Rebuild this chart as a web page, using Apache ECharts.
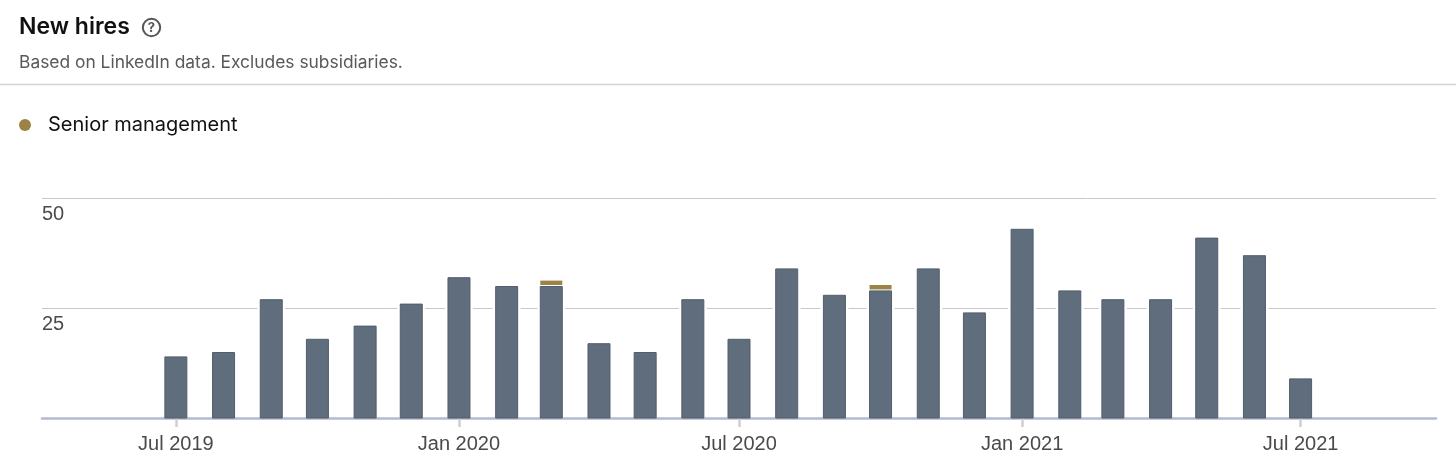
<!DOCTYPE html>
<html>
<head>
<meta charset="utf-8">
<style>
  html, body { margin: 0; padding: 0; background: #fff; }
  #chart { width: 1456px; height: 466px; }
</style>
<script src="https://cdn.jsdelivr.net/npm/echarts@6/dist/echarts.min.js"></script>
</head>
<body>
<div id="chart"></div>
<script>
const months = ['2019-07-01', '2019-08-01', '2019-09-01', '2019-10-01', '2019-11-01', '2019-12-01',
  '2020-01-01', '2020-02-01', '2020-03-01', '2020-04-01', '2020-05-01', '2020-06-01',
  '2020-07-01', '2020-08-01', '2020-09-01', '2020-10-01', '2020-11-01', '2020-12-01',
  '2021-01-01', '2021-02-01', '2021-03-01', '2021-04-01', '2021-05-01', '2021-06-01', '2021-07-01'];
const otherHires = [14, 15, 27, 18, 21, 26, 32, 30, 30, 17, 15, 27, 18, 34, 28, 29, 34, 24, 43, 29, 27, 27, 41, 37, 9];
const seniorHires = [0, 0, 0, 0, 0, 0, 0, 0, 1, 0, 0, 0, 0, 0, 0, 1, 0, 0, 0, 0, 0, 0, 0, 0, 0];
const xTicks = ['2019-07-01', '2020-01-01', '2020-07-01', '2021-01-01', '2021-07-01'];
const yTicks = [0, 25, 50];

const BAR_WIDTH = 22;

// bars have a white halo that cuts the gridlines, so plain bar series won't do
function renderOther(params, api) {
  const top = api.coord([api.value(0), api.value(1)]);
  const bottom = api.coord([api.value(0), 0]);
  const x = top[0] - BAR_WIDTH / 2;
  return {
    type: 'group',
    children: [
      {
        type: 'rect',
        shape: { x: x - 3, y: top[1] - 1, width: BAR_WIDTH + 6, height: bottom[1] - top[1] },
        style: { fill: '#fff' }
      },
      {
        type: 'rect',
        shape: { x: x, y: top[1] + 0.5, width: BAR_WIDTH, height: bottom[1] - top[1] - 0.5 },
        style: { fill: api.visual('color'), stroke: '#505e6d', lineWidth: 1 }
      }
    ]
  };
}

function renderSenior(params, api) {
  if (!api.value(2)) return null;
  const top = api.coord([api.value(0), api.value(1) + api.value(2)]);
  const bottom = api.coord([api.value(0), api.value(1)]);
  return {
    type: 'rect',
    shape: { x: top[0] - BAR_WIDTH / 2, y: top[1] - 1, width: BAR_WIDTH, height: bottom[1] - top[1] },
    style: { fill: api.visual('color') }
  };
}

const rows = months.map((m, i) => [m, otherHires[i], seniorHires[i]]);

const chart = echarts.init(document.getElementById('chart'));
chart.setOption({
  animation: false,
  title: {
    text: 'New hires',
    subtext: 'Based on LinkedIn data. Excludes subsidiaries.',
    left: 19,
    top: 16,
    padding: 0,
    itemGap: 15,
    textStyle: { fontFamily: 'Inter', fontSize: 23, fontWeight: 600, color: '#111' },
    subtextStyle: { fontFamily: 'Inter', fontSize: 17.4, fontWeight: 400, color: '#595959' }
  },
  legend: {
    data: [{ name: 'Senior management', icon: 'circle' }],
    left: 19,
    top: 115,
    padding: 0,
    itemWidth: 12,
    itemHeight: 12,
    itemGap: 0,
    textStyle: { fontFamily: 'Inter', fontSize: 20, color: '#111', padding: [0, 0, 0, 12] }
  },
  grid: { left: 42, right: 20, top: 198, bottom: 48 },
  xAxis: {
    type: 'time',
    min: '2019-04-05',
    max: '2021-09-27',
    axisLine: { lineStyle: { color: '#b4bacf', width: 2.5 } },
    axisTick: { customValues: xTicks, length: 9, lineStyle: { color: '#cfcfcf', width: 2.5 } },
    axisLabel: {
      customValues: xTicks,
      formatter: '{MMM} {yyyy}',
      margin: 16,
      fontFamily: 'Liberation Sans',
      fontSize: 20,
      color: '#4a4a4a'
    },
    splitLine: { show: false }
  },
  yAxis: {
    type: 'value',
    min: 0,
    max: 50,
    interval: 25,
    axisLine: { show: false },
    axisTick: { show: false },
    axisLabel: {
      customValues: yTicks,
      inside: true,
      margin: 0,
      align: 'left',
      verticalAlign: 'top',
      padding: [6, 0, 0, 0],
      fontFamily: 'Liberation Sans',
      fontSize: 20,
      color: '#4a4a4a',
      formatter: (v) => (v === 0 ? '' : String(v))
    },
    splitLine: { lineStyle: { color: '#c8c8c8', width: 1 } }
  },
  series: [
    {
      name: 'Other',
      type: 'custom',
      renderItem: renderOther,
      itemStyle: { color: '#5f6d7c' },
      encode: { x: 0, y: 1 },
      data: rows
    },
    {
      name: 'Senior management',
      type: 'custom',
      renderItem: renderSenior,
      itemStyle: { color: '#9b8346' },
      encode: { x: 0, y: 1 },
      data: rows
    }
  ],
  graphic: [
    {
      type: 'rect',
      shape: { x: 0, y: 84.5, width: 1456, height: 0 },
      style: { stroke: '#d4d4d4', lineWidth: 1.5 }
    },
    {
      type: 'circle',
      shape: { cx: 151.5, cy: 27.5, r: 8.7 },
      style: { fill: 'none', stroke: '#555', lineWidth: 2 }
    },
    {
      type: 'text',
      x: 151.5,
      y: 28,
      style: { text: '?', fill: '#555', font: '700 13px Inter', align: 'center', verticalAlign: 'middle' }
    }
  ]
});
</script>
</body>
</html>
